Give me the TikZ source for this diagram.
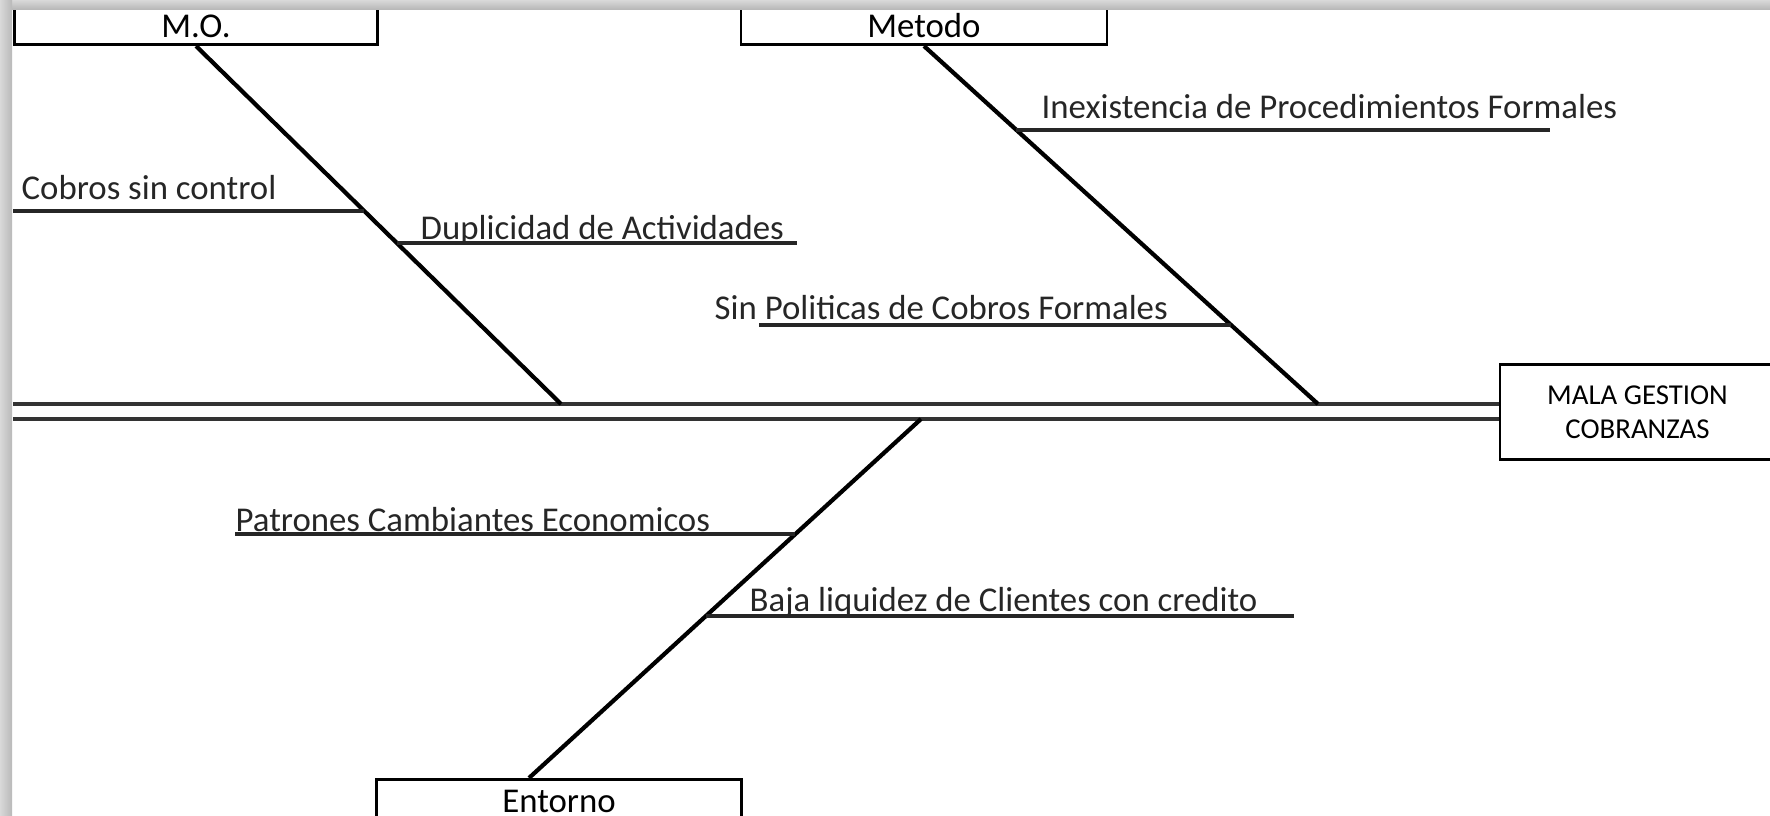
\documentclass[tikz,border=0pt]{standalone}
\usepackage{fontspec}
\setmainfont{Carlito}
\usetikzlibrary{calc,positioning}
\tikzset{
  bone/.style={line width=1.2pt,black},
  rib/.style={line width=0.9pt,black!85},
  spine/.style={line width=1pt,black!80},
  causebox/.style={draw,line width=0.8pt,inner sep=0pt,font=\fontsize{9.9}{12}\selectfont},
  causetxt/.style={anchor=base west,inner sep=0pt,text=black!85,font=\fontsize{9.9}{12}\selectfont}
}
\begin{document}
\begin{tikzpicture}[x=0.1mm,y=-0.1mm]
\useasboundingbox (0,0) rectangle (1770,816);
\clip (0,0) rectangle (1770,816);
% categorias
\node[causebox,anchor=south,minimum width=36.3mm,text height=4.9mm,text depth=0.7mm] (mo) at (196,46) {M.O.};
\node[causebox,anchor=south,minimum width=36.6mm,text height=4.9mm,text depth=0.7mm] (metodo) at (924,46) {Metodo};
\node[causebox,anchor=north,minimum width=36.5mm,text height=3.3mm,text depth=2mm] (entorno) at (559,778) {Entorno};
\node[causebox,minimum width=27.5mm,minimum height=9.5mm,align=center,font=\fontsize{8.2}{9.7}\selectfont] (efecto) at (1637.5,412) {MALA GESTION\\COBRANZAS};
% espina
\coordinate (spinetop) at (13,404);\coordinate (spinebot) at (13,419);
\draw[spine] (spinetop) -- (spinetop -| efecto.west);
\draw[spine] (spinebot) -- (spinebot -| efecto.west);
% huesos
\coordinate (mohead) at (561,404);\coordinate (metodohead) at (1318,404);\coordinate (entornohead) at (921,419);
\draw[bone] (mo.south) -- (mohead);
\draw[bone] (metodo.south) -- (metodohead);
\draw[bone] (entornohead) -- ($(entorno.north)+(-30,0)$);
% causas
\foreach \nm/\xa/\xb/\yy in {cobros/13/364/211,duplicidad/397/797/243,inexistencia/1016/1550/130,sinpol/759/1231/325,patrones/235/795/534,baja/706/1294/616}{
  \coordinate (\nm-l) at (\xa,\yy);\coordinate (\nm-r) at (\xb,\yy);
  \draw[rib] (\nm-l) -- (\nm-r);
}
\node[causetxt] (cobros) at (21,199) {Cobros sin control};
\node[causetxt] (duplicidad) at (420,239) {Duplicidad de Actividades};
\node[causetxt] (inexistencia) at (1041,118) {Inexistencia de Procedimientos Formales};
\node[causetxt] (sinpol) at (714,319) {Sin Politicas de Cobros Formales};
\node[causetxt] (patrones) at (235,531) {Patrones Cambiantes Economicos};
\node[causetxt] (baja) at (749,611) {Baja liquidez de Clientes con credito};
% marco
\shade[top color=gray!30,bottom color=gray!55] (0,0) rectangle (1770,9);
\shade[left color=gray!30,right color=gray!55] (0,0) rectangle (12,816);
\end{tikzpicture}
\end{document}
